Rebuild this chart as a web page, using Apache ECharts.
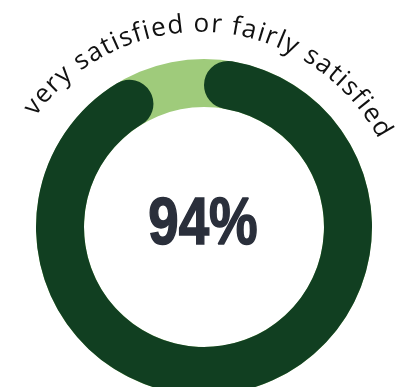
<!DOCTYPE html>
<html>
<head>
<meta charset="utf-8">
<script src="https://cdn.jsdelivr.net/npm/echarts@6/dist/echarts.min.js"></script>
<style>
  html, body { margin: 0; padding: 0; background: #ffffff; }
  #chart { width: 407px; height: 387px; }
</style>
</head>
<body>
<div id="chart"></div>
<script>
// Share of respondents
const categories = ['very satisfied or fairly satisfied', 'other'];
const values = [94, 6];

const DARK = '#113f21';
const LIGHT = '#9fcb7b';
const CENTER = [204, 227];
const RADII = [120, 168];

const chart = echarts.init(document.getElementById('chart'), null, { renderer: 'canvas' });

// Curved caption laid out one glyph at a time along an arc above the ring
const captionFont = { family: '"Open Sans", sans-serif', size: 26, weight: 400, spacing: 1.3 };
const arc = { cx: 200, cy: 234, r: 201, mid: 0.065 };

function curvedText(text) {
  const font = captionFont.weight + ' ' + captionFont.size + 'px ' + captionFont.family;
  const ctx = document.createElement('canvas').getContext('2d');
  ctx.font = font;
  const chars = Array.from(text);
  const widths = chars.map(ch => ctx.measureText(ch).width + captionFont.spacing);
  const total = widths.reduce((a, b) => a + b, 0) - captionFont.spacing;
  const a0 = arc.mid - total / arc.r / 2;
  const rMid = arc.r + captionFont.size * 0.33;
  let s = 0;
  return chars.map((ch, i) => {
    const w = widths[i] - captionFont.spacing;
    const a = a0 + (s + w / 2) / arc.r;
    s += widths[i];
    return {
      type: 'text',
      x: arc.cx + rMid * Math.sin(a),
      y: arc.cy - rMid * Math.cos(a),
      rotation: -a,
      silent: true,
      style: {
        text: ch,
        fill: '#111111',
        font: font,
        align: 'center',
        verticalAlign: 'middle'
      }
    };
  });
}

chart.setOption({
  animation: false,
  series: [
    {
      // full track behind the main arc
      type: 'pie',
      silent: true,
      center: CENTER,
      radius: RADII,
      label: { show: false },
      labelLine: { show: false },
      emphasis: { disabled: true },
      data: [{ value: 1, itemStyle: { color: LIGHT } }]
    },
    {
      type: 'pie',
      silent: true,
      center: CENTER,
      radius: RADII,
      startAngle: 90,
      clockwise: true,
      label: { show: false },
      labelLine: { show: false },
      emphasis: { disabled: true },
      data: [
        { name: categories[0], value: values[0], itemStyle: { color: DARK, borderRadius: 24 } },
        { name: categories[1], value: values[1], itemStyle: { color: 'rgba(0,0,0,0)' } }
      ]
    }
  ],
  graphic: [
    {
      // headline figure, condensed horizontally
      type: 'text',
      x: 203,
      y: 226,
      scaleX: 0.815,
      silent: true,
      style: {
        text: values[0] + '%',
        fill: '#2a2f3b',
        stroke: '#2a2f3b',
        lineWidth: 1.6,
        lineJoin: 'round',
        font: 'bold 67px "Liberation Sans", sans-serif',
        align: 'center',
        verticalAlign: 'middle'
      }
    }
  ].concat(curvedText(categories[0]))
});
</script>
</body>
</html>
